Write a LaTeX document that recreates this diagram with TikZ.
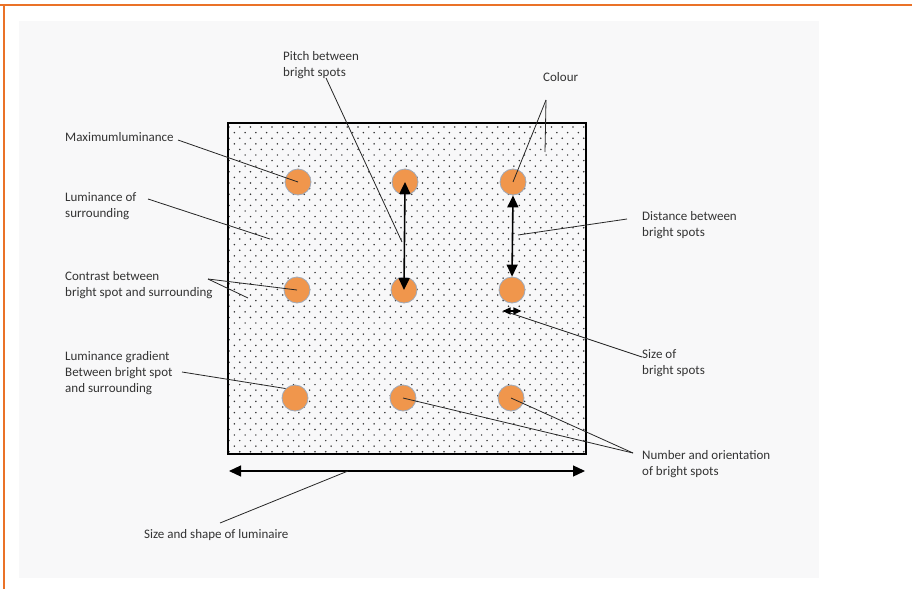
\documentclass[tikz,border=0pt]{standalone}
\usepackage{fontspec}
\setmainfont{Carlito}
\usepackage{xcolor}
\usepackage{tikz}
\usetikzlibrary{arrows.meta}

\definecolor{spotorange}{RGB}{240,150,76}
\definecolor{spotrim}{RGB}{160,170,186}
\definecolor{frameorange}{RGB}{234,114,40}
\definecolor{panelgray}{RGB}{248,248,249}

\tikzset{
  spot/.style={circle, fill=spotorange, draw=spotrim, line width=0.8pt, minimum size=26pt, inner sep=0pt},
  lbl/.style={anchor=base west, align=left, inner sep=0pt, text=black!80,
    font=\fontsize{13}{16}\selectfont},
  leader/.style={line width=0.8pt, black!85},
  dimarrow/.style={line width=1.6pt, {Triangle[length=12pt,width=11pt]}-{Triangle[length=12pt,width=11pt]}},
}

\begin{document}
\begin{tikzpicture}[x=1pt,y=-1pt]
            \useasboundingbox (0,0) rectangle (912,589);
            % frame and panel
            \fill [panelgray] (19,21) rectangle (819,578);
            \draw [frameorange, line width=1.4pt] (0,5) -- (912,5);
            \draw [frameorange, line width=1.4pt] (4,5) -- (4,589);

            % luminaire with dots
            \begin{scope}
              \clip (228,124) rectangle (586,454);
              \foreach \r in {0,...,59}
                \foreach \c in {0,...,34}
                  \fill [black!80] ({229+\c*10.75+mod(\r,2)*5.37},{127+\r*5.6}) circle (0.85);
            \end{scope}
            \draw [line width=2.8pt] (228,123) rectangle (586,454);

            % bright spots
            \node [spot] (s11) at (298,182) {};
            \node [spot] (s12) at (405,182) {};
            \node [spot] (s13) at (513,182) {};
            \node [spot] (s21) at (297,290) {};
            \node [spot] (s22) at (404,290) {};
            \node [spot] (s23) at (512,290) {};
            \node [spot] (s31) at (295,398) {};
            \node [spot] (s32) at (403,398) {};
            \node [spot] (s33) at (511,398) {};

            % dimension arrows
            \draw [dimarrow] (s12.center) -- (s22.center);
            \draw [dimarrow] (s13.south) -- (s23.north);
            \draw [line width=1.2pt, {Triangle[length=8pt,width=7pt]}-{Triangle[length=8pt,width=7pt]}] (s23.south west |- 0,311) -- (s23.south east |- 0,311);
            \coordinate (wl) at (229,471);
            \coordinate (wr) at (585,471);
            \draw [dimarrow, line width=1.2pt] (wl) -- (wr);

            % labels (base = last line)
            \node [lbl] (pitch) at (283,76) {Pitch between\\bright spots};
            \node [lbl] (colour) at (543,81) {Colour};
            \node [lbl] (maxlum) at (65,141) {Maximumluminance};
            \node [lbl] (surr) at (65,217) {Luminance of\\surrounding};
            \node [lbl] (contr) at (65,296) {Contrast between\\bright spot and surrounding};
            \node [lbl] (grad) at (65,392) {Luminance gradient\\Between bright spot\\and surrounding};
            \node [lbl] (dist) at (642,236) {Distance between\\bright spots};
            \node [lbl] (size) at (642,374) {Size of\\bright spots};
            \node [lbl] (number) at (642,475) {Number and orientation\\of bright spots};
            \node [lbl] (shape) at (144,538) {Size and shape of luminaire};

            % leader lines
            \coordinate (pitchend) at (326,78);
            \coordinate (colourend) at (546,100);
            \coordinate (maxend) at (178,140);
            \coordinate (surrend) at (148,199);
            \coordinate (contrend) at (208,279);
            \coordinate (gradend) at (182,372);
            \coordinate (distend) at (627,219);
            \coordinate (sizeend) at (642,357);
            \coordinate (numend) at (633,453);
            \coordinate (shapeend) at (220,523);
            \coordinate (surrpt) at (270,239);
            \coordinate (contrpt) at (248,298);
            \coordinate (colourpt) at (545,152);
            \coordinate (pitchpt) at (402,242);
            \coordinate (distpt) at (518,235);
            \coordinate (sizept) at (510,313);
            \coordinate (shapept) at (348,471);

            \draw [leader] (maxend) -- (s11.center);
            \draw [leader] (surrend) -- (surrpt);
            \draw [leader] (contrend) -- (s21.center);
            \draw [leader] (contrend) -- (contrpt);
            \draw [leader] (gradend) -- (s31.north west);
            \draw [leader] (pitchend) -- (pitchpt);
            \draw [leader] (colourend) -- (s13.center);
            \draw [leader] (colourend) -- (colourpt);
            \draw [leader] (distend) -- (distpt);
            \draw [leader] (sizeend) -- (sizept);
            \draw [leader] (numend) -- (s32.center);
            \draw [leader] (numend) -- (s33.center);
            \draw [leader] (shapeend) -- (shapept);
        \end{tikzpicture}
\end{document}
